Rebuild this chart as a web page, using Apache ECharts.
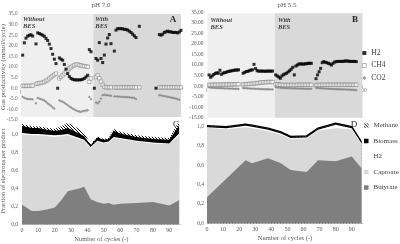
<!DOCTYPE html>
<html><head><meta charset="utf-8">
<script src="https://cdn.jsdelivr.net/npm/echarts@6/dist/echarts.min.js"></script>
<style>html,body{margin:0;padding:0;background:#fff}#c{width:400px;height:244px}</style>
</head><body><div id="c"></div>
<script>
// ---------- pH 7.0 gas productivity (cycle, mmol/cycle) ----------
const h2_pH7 = [[1,15.6],[2,21.4],[3,23.6],[4,24.6],[5,25.0],[6,25.2],[7,24.6],[9,20.9],[10,26.1],[11,25.8],[12,25.4],[13,25.0],[14,24.5],[15,23.5],[16,22.5],[17,20.8],[18,18.7],[19,16.0],[20,13.7],[21,11.6],[22,0],[23,14.3],[24,13.7],[25,13.2],[26,11.2],[27,9.0],[28,6.9],[29,5.5],[30,4.6],[31,4.2],[32,4.0],[33,3.9],[34,3.9],[35,3.9],[36,4.0],[37,4.2],[38,4.6],[39,5.3],[40,6.1],[41,18.2],[42,17.2],[44,0],[45,14.0],[46,13.2],[47,21.5],[48,14.0],[49,12.1],[50,15.6],[51,20.8],[52,23.7],[53,25.3],[54,21.0],[56,17.5],[57,27.4],[58,28.1],[59,28.1],[60,28.1],[61,28.0],[62,27.8],[63,27.7],[64,27.4],[65,26.9],[66,26.3],[67,25.5],[68,24.7],[69,23.9],[71,29.2],[81,0],[83,25.3],[84,25.0],[85,25.5],[86,26.3],[87,26.6],[88,26.9],[89,26.6],[90,26.6],[91,26.3],[92,26.3],[93,26.3],[94,26.1],[95,26.5],[96,27.3]];
const ch4_pH7 = [[1,1.1],[2,1.1],[3,1.1],[4,1.1],[5,1.1],[6,1.2],[7,1.2],[9,2.0],[10,2.2],[11,2.4],[12,2.5],[13,2.7],[14,3.0],[15,3.5],[16,3.9],[17,4.6],[18,5.2],[19,5.8],[20,6.4],[21,6.9],[23,4.6],[24,5.3],[25,6.1],[26,6.9],[27,7.7],[28,8.5],[29,9.3],[30,9.9],[31,10.5],[32,10.8],[33,11.2],[34,11.2],[35,10.8],[36,10.8],[37,10.5],[38,10.4],[39,10.3],[40,10.1],[41,3.0],[42,4.6],[45,5.3],[46,6.0],[47,4.7],[48,3.1],[49,1.6],[50,0.6],[51,0.4],[52,0.4],[53,0.4],[54,0.4],[56,0.4],[57,0.4],[58,0.4],[59,0.4],[60,0.4],[61,0.4],[62,0.4],[63,0.4],[64,0.4],[65,0.4],[66,0.4],[67,0.4],[68,0.4],[69,0.4],[71,0.4],[83,0.4],[84,0.4],[85,0.4],[86,0.4],[87,0.4],[88,0.4],[89,0.4],[90,0.4],[91,0.4],[92,0.4],[93,0.4],[94,0.4],[95,0.4],[96,0.4]];
const co2_pH7 = [[1,-4.1],[2,-4.6],[3,-4.9],[4,-5.1],[5,-5.2],[6,-5.2],[7,-5.3],[9,-7.1],[10,-4.6],[11,-4.9],[12,-5.2],[13,-5.5],[14,-5.8],[15,-6.4],[16,-7.1],[17,-7.7],[18,-8.3],[19,-9.0],[20,-9.6],[23,-5.7],[24,-6.1],[25,-6.4],[26,-6.9],[27,-7.4],[28,-8.0],[29,-8.6],[30,-9.1],[31,-9.6],[32,-10.0],[33,-10.5],[34,-10.8],[35,-11.0],[36,-11.2],[37,-10.8],[38,-10.8],[39,-10.5],[40,-10.4],[41,-4.1],[42,-5.2],[45,-6.8],[46,-7.1],[47,-6.4],[48,-4.9],[49,-3.3],[50,-3.0],[51,-3.3],[52,-3.3],[53,-3.5],[54,-3.6],[56,-3.9],[57,-3.9],[58,-3.9],[59,-4.0],[60,-4.1],[61,-4.1],[62,-4.1],[63,-4.2],[64,-4.2],[65,-4.3],[66,-4.4],[67,-4.5],[68,-4.6],[69,-5.2],[83,-3.3],[84,-3.4],[85,-3.6],[86,-3.7],[87,-3.9],[88,-4.0],[89,-4.2],[90,-4.4],[91,-4.6],[92,-4.7],[93,-4.9],[94,-5.2],[95,-5.5]];

// ---------- pH 5.5 gas productivity ----------
const cycles55 = [1,2,3,4,5,6,7,8,9,10,11,12,13,14,15,16,17,18,19,20,23,24,25,26,27,28,29,30,31,32,33,34,35,36,37,38,39,40,41,42,44,45,46,47,48,49,50,51,52,53,54,55,56,57,58,59,60,61,62,63,64,65,66,67,70,71,72,73,74,75,76,77,78,79,80,81,82,83,84,85,86,87,88,89,90,91,92,93,94,95,96];
const h2_pH55 = [5.3,4.2,4.8,5.5,6.0,6.3,6.1,7.5,5.6,6.1,6.4,6.5,6.9,7.0,7.2,7.3,7.5,7.6,7.6,7.7, 6.1,6.5,6.9,7.0,7.3,7.6,7.7,10.3,8.3,7.3,7.1,7.1,7.1,7.1,7.0,7.1,7.1,7.1,7.1,7.1, 5.3,4.8,4.3,3.7,4.8,5.4,5.8,6.1,6.7,7.3,8.0,8.9,5.3,9.5,10.0,10.5,10.5,10.5,10.4,10.6,10.6,10.8,10.8,10.8, 3.5,5.3,6.8,8.4,11.1,11.6,11.3,11.1,10.8,10.5,10.0,10.8,11.4,11.6,11.7,11.7,11.7,11.7,11.8,11.9,11.9,11.8,11.7,11.7,11.7,11.7,11.6];
const ch4_pH55 = [0.6,0.5,0.6,0.6,0.7,0.6,0.6,0.7,0.6,0.7,0.7,0.7,0.8,0.7,0.8,0.8,0.8,0.9,0.9,0.9, 0.8,0.9,0.9,1.0,1.0,1.1,1.1,1.2,1.3,1.4,1.5,1.6,1.7,1.8,1.8,1.9,1.9,2.0,1.9,1.9, 0.9,0.8,0.7,0.6,0.6,0.5,0.5,0.5,0.5,0.5,0.6,0.5,0.5,0.5,0.6,0.6,0.6,0.6,0.6,0.6,0.6,0.6,0.6,0.6, 0.5,0.5,0.5,0.6,0.6,0.6,0.6,0.6,0.6,0.6,0.6,0.6,0.6,0.6,0.6,0.6,0.6,0.6,0.6,0.6,0.6,0.6,0.6,0.6,0.6,0.6,0.6];
const co2_pH55 = [-0.6,-0.7,-0.8,-0.8,-0.9,-0.9,-1.0,-0.9,-1.0,-1.0,-1.1,-1.1,-1.1,-1.2,-1.2,-1.2,-1.3,-1.3,-1.3,-1.4, -0.9,-1.0,-1.0,-1.1,-1.1,-1.2,-1.2,-1.2,-1.3,-1.3,-1.3,-1.4,-1.4,-1.4,-1.5,-1.5,-1.5,-1.6,-1.6,-1.6, -0.5,-0.6,-0.7,-0.8,-0.8,-0.9,-0.9,-1.0,-1.0,-1.0,-1.1,-1.1,-1.1,-1.1,-1.2,-1.2,-1.2,-1.2,-1.2,-1.3,-1.3,-1.3,-1.3,-1.3, -0.8,-0.9,-1.0,-1.0,-1.1,-1.1,-1.2,-1.2,-1.3,-1.3,-1.3,-1.4,-1.4,-1.4,-1.5,-1.5,-1.5,-1.6,-1.6,-1.6,-1.7,-1.7,-1.7,-1.8,-1.8,-1.9,-1.9];

// BES phases (cycle ranges)
const withoutBES_pH7 = [0, 43.4];
const withBES_pH7 = [43.4, 96];
const withoutBES_pH55 = [0, 43.5];
const withBES_pH55 = [43.5, 100];

// ---------- fraction of electrons per product ----------
const cyclesC = [0, 6, 10, 16, 20, 24, 28, 35, 38, 42, 46, 50, 53, 56, 60, 70, 80, 90, 96];
const butyrateC = [0.22,0.15,0.15,0.17,0.19,0.27,0.37,0.40,0.42,0.28,0.25,0.23,0.24,0.22,0.23,0.24,0.25,0.21,0.27];
const caproateC = [0.78,0.84,0.84,0.81,0.78,0.71,0.62,0.55,0.51,0.57,0.67,0.67,0.67,0.74,0.72,0.68,0.65,0.68,0.72];
const h2C       = [0.015,0.015,0.015,0.015,0.02,0.015,0.015,0.01,0.01,0.01,0.01,0.01,0.01,0.01,0.01,0.01,0.01,0.01,0.02];
const biomassC  = [0.08,0.065,0.065,0.055,0.05,0.055,0.065,0.05,0.04,0.02,0.035,0.03,0.03,0.07,0.05,0.04,0.04,0.04,0.09];
const methaneC  = [0.02,0.02,0.02,0.02,0.02,0.04,0.06,0.05,0.04,0.01,0.01,0.01,0.01,0.02,0.02,0.02,0.02,0.02,0.05];

const cyclesD = [0, 12, 24, 28, 38, 46, 52, 62, 69, 80, 90, 96];
const butyrateD = [0.27,0.46,0.65,0.62,0.67,0.62,0.55,0.53,0.65,0.64,0.69,0.57];
const caproateD = [0.715,0.51,0.34,0.36,0.28,0.29,0.32,0.345,0.305,0.34,0.28,0.25];
const h2D       = [0.005,0.01,0.015,0.015,0.015,0.015,0.01,0.01,0.01,0.035,0.01,0.005];
const biomassD  = [0.012,0.012,0.012,0.012,0.012,0.012,0.012,0.012,0.012,0.012,0.012,0.012];
const methaneD  = [0.004,0.004,0.004,0.004,0.004,0.004,0.004,0.004,0.004,0.004,0.004,0.004];

// ---------- drawing ----------
const FONT = '"Liberation Serif", "DejaVu Serif", serif';
const GREY = '#595959';
const zip = (xs, ys) => xs.map((x, i) => [x, ys[i]]);

function hatch() {
  const c = document.createElement('canvas'); c.width = 3; c.height = 3;
  const g = c.getContext('2d');
  g.fillStyle = '#fff'; g.fillRect(0, 0, 3, 3);
  g.strokeStyle = '#000'; g.lineWidth = 1;
  g.beginPath();
  g.moveTo(-1, -1); g.lineTo(4, 4);
  g.moveTo(-1, 2); g.lineTo(1, 4);
  g.moveTo(2, -1); g.lineTo(4, 1);
  g.stroke();
  return c;
}
const hatchFill = { image: hatch(), repeat: 'repeat' };

const chart = echarts.init(document.getElementById('c'), null, { renderer: 'canvas' });

function shading(idx, without, withB, ylo, yhi, dist) {
  const lab = (t) => ({ show: true, position: 'insideTopLeft', distance: dist, formatter: t,
    fontFamily: FONT, fontStyle: 'italic', fontWeight: 'bold', fontSize: 6.5, lineHeight: 7, color: '#404040' });
  return {
    type: 'scatter', xAxisIndex: idx, yAxisIndex: idx, data: [], z: 1, silent: true,
    markArea: { silent: true, data: [
      [{ xAxis: without[0], yAxis: ylo, itemStyle: { color: '#efefef' }, label: lab('Without\nBES') }, { xAxis: without[1], yAxis: yhi }],
      [{ xAxis: withB[0], yAxis: ylo, itemStyle: { color: '#d9d9d9' }, label: lab('With\nBES') }, { xAxis: withB[1], yAxis: yhi }]
    ] }
  };
}

function gasSeries(idx, h2, ch4, co2) {
  return [
    { name: 'CO2', type: 'scatter', xAxisIndex: idx, yAxisIndex: idx, data: co2, symbol: 'diamond', symbolSize: 2.8, z: 3,
      itemStyle: { color: '#808080' } },
    { name: 'CH4', type: 'scatter', xAxisIndex: idx, yAxisIndex: idx, data: ch4, symbol: 'rect', symbolSize: 3.4, z: 4,
      itemStyle: { color: '#fff', borderColor: '#808080', borderWidth: 0.7 } },
    { name: 'H2', type: 'scatter', xAxisIndex: idx, yAxisIndex: idx, data: h2, symbol: 'rect', symbolSize: 3, z: 5,
      itemStyle: { color: '#000' } }
  ];
}

// stacked areas: each layer drawn from 0 up to its cumulative top; lower layers drawn above
function areaSeries(idx, xs, parts, topLine) {
  const names = ['Butyrate', 'Caproate', 'H2', 'Biomass', 'Methane'];
  const cols = ['#7f7f7f', '#d9d9d9', '#ffffff', '#000000', hatchFill];
  const cum = [];
  let run = xs.map(() => 0);
  parts.forEach(p => { run = run.map((v, i) => v + p[i]); cum.push(run); });
  return names.map((name, i) => ({
    name, type: 'line', xAxisIndex: idx, yAxisIndex: idx, data: zip(xs, cum[i]),
    symbol: 'none', z: 10 - i, silent: true,
    lineStyle: (i === 4 && topLine) ? { width: 1.3, color: '#000' } : { width: 0 },
    itemStyle: { color: typeof cols[i] === 'string' ? cols[i] : '#000' },
    areaStyle: { color: cols[i], opacity: 1, origin: 'start' }
  }));
}

const axLab = (sz) => ({ fontFamily: FONT, fontSize: sz, color: GREY });

const option = {
  animation: false,
  grid: [
    { left: 21, top: 14, width: 160, height: 106 },
    { left: 207.5, top: 12.3, width: 155, height: 105.4 },
    { left: 22, top: 116.4, width: 158.7, height: 108.6 },
    { left: 207, top: 116.5, width: 156, height: 107 }
  ],
  xAxis: [
    { gridIndex: 0, type: 'value', min: 0, max: 96, interval: 10, splitLine: { show: false }, offset: -31.8,
      axisLine: { onZero: false, lineStyle: { color: '#a6a6a6', width: 0.8 } }, axisTick: { length: 2, lineStyle: { color: '#a6a6a6' } },
      axisLabel: Object.assign(axLab(5.5), { margin: 1.5, color: '#7f7f7f', showMaxLabel: false }) },
    { gridIndex: 1, type: 'value', min: 0, max: 100, interval: 10, splitLine: { show: false }, offset: -31.6,
      axisLine: { onZero: false, lineStyle: { color: '#a6a6a6', width: 0.8 } }, axisTick: { length: 2, lineStyle: { color: '#a6a6a6' } },
      axisLabel: Object.assign(axLab(5.5), { margin: 1.5, color: '#7f7f7f' }) },
    { gridIndex: 2, type: 'value', min: 0, max: 97, interval: 10, splitLine: { show: false },
      axisLine: { lineStyle: { color: '#bfbfbf', width: 0.8 } }, axisTick: { show: false },
      axisLabel: Object.assign(axLab(6), { margin: 3, showMaxLabel: false }),
      name: 'Number of cycles (-)', nameLocation: 'middle', nameGap: 11.5, nameTextStyle: axLab(6.5) },
    { gridIndex: 3, type: 'value', min: 0, max: 97, interval: 10, splitLine: { show: false },
      axisLine: { lineStyle: { color: '#bfbfbf', width: 0.8 } }, axisTick: { show: false },
      axisLabel: Object.assign(axLab(6), { margin: 3, showMaxLabel: false }),
      name: 'Number of cycles (-)', nameLocation: 'middle', nameGap: 11.5, nameTextStyle: axLab(6.5) }
  ],
  yAxis: [
    { gridIndex: 0, type: 'value', min: -15, max: 35, interval: 5, splitLine: { show: false },
      axisLine: { show: false }, axisTick: { show: false },
      axisLabel: Object.assign(axLab(5.2), { margin: 3.5, showMinLabel: true, showMaxLabel: true, formatter: v => v.toFixed(1) }) },
    { gridIndex: 1, type: 'value', min: -15, max: 35, interval: 5, splitLine: { show: false },
      axisLine: { show: false }, axisTick: { show: false },
      axisLabel: Object.assign(axLab(5.5), { margin: 4, formatter: v => v.toFixed(2) }) },
    { gridIndex: 2, type: 'value', min: 0, max: 1.2, interval: 0.2, splitLine: { show: false },
      axisLine: { show: false }, axisTick: { show: false },
      axisLabel: Object.assign(axLab(5.5), { margin: 4, showMaxLabel: false,
        formatter: v => v > 1.05 ? '' : v.toFixed(1).replace('.', ',') }) },
    { gridIndex: 3, type: 'value', min: 0, max: 1.1, interval: 0.2, splitLine: { show: false },
      axisLine: { show: false }, axisTick: { show: false },
      axisLabel: Object.assign(axLab(5.5), { margin: 3, showMaxLabel: false,
        formatter: v => v > 1.05 ? '' : v.toFixed(1).replace('.', ',') }) }
  ],
  legend: [
    { orient: 'vertical', left: 362, top: 49, padding: 0, itemWidth: 4, itemHeight: 4, itemGap: 4.5,
      textStyle: { fontFamily: FONT, fontSize: 7.5, color: '#404040' },
      data: [
        { name: 'H2', icon: 'rect', itemStyle: { color: '#000', borderWidth: 0 } },
        { name: 'CH4', icon: 'rect', itemStyle: { color: '#fff', borderColor: '#808080', borderWidth: 0.7 } },
        { name: 'CO2', icon: 'diamond', itemStyle: { color: '#808080', borderWidth: 0 } }
      ] },
    { orient: 'vertical', left: 364, top: 122, padding: 0, itemWidth: 4.5, itemHeight: 4.5, itemGap: 8.5,
      textStyle: { fontFamily: FONT, fontSize: 7, color: '#404040' },
      data: [
        { name: 'Methane', icon: 'rect', itemStyle: { color: hatchFill, borderWidth: 0 } },
        { name: 'Biomass', icon: 'rect', itemStyle: { color: '#000', borderWidth: 0 } },
        { name: 'H2', icon: 'rect', itemStyle: { color: '#fff', borderWidth: 0 } },
        { name: 'Caproate', icon: 'rect', itemStyle: { color: '#d9d9d9', borderWidth: 0 } },
        { name: 'Butyrate', icon: 'rect', itemStyle: { color: '#7f7f7f', borderWidth: 0 } }
      ] }
  ],
  graphic: [
    { type: 'text', x: 101, y: 5, style: { text: 'pH 7.0', font: '7px ' + FONT, fill: GREY, align: 'center', verticalAlign: 'middle' } },
    { type: 'text', x: 287, y: 5, style: { text: 'pH 5.5', font: '7px ' + FONT, fill: GREY, align: 'center', verticalAlign: 'middle' } },
    { type: 'text', x: 3, y: 67, rotation: Math.PI / 2, style: { text: 'Gas productivity (mmol/cycle)', font: '7px ' + FONT, fill: GREY, align: 'center', verticalAlign: 'middle' } },
    { type: 'text', x: 3, y: 171, rotation: Math.PI / 2, style: { text: 'Fraction of electrons per product', font: '6.5px ' + FONT, fill: GREY, align: 'center', verticalAlign: 'middle' } },
    { type: 'text', x: 173, y: 19.5, z: 100, style: { text: 'A', font: 'bold 9px ' + FONT, fill: '#262626', align: 'center', verticalAlign: 'middle' } },
    { type: 'text', x: 355, y: 19.5, z: 100, style: { text: 'B', font: 'bold 9px ' + FONT, fill: '#262626', align: 'center', verticalAlign: 'middle' } },
    { type: 'text', x: 176, y: 125, z: 100, style: { text: 'C', font: '9px ' + FONT, fill: '#262626', align: 'center', verticalAlign: 'middle' } },
    { type: 'text', x: 354, y: 125, z: 100, style: { text: 'D', font: '9px ' + FONT, fill: '#262626', align: 'center', verticalAlign: 'middle' } }
  ],
  series: [
    shading(0, withoutBES_pH7, withBES_pH7, -13.6, 35, 2),
    shading(1, withoutBES_pH55, withBES_pH55, -15, 34.5, 3),
    ...gasSeries(0, h2_pH7, ch4_pH7, co2_pH7),
    ...gasSeries(1, zip(cycles55, h2_pH55), zip(cycles55, ch4_pH55), zip(cycles55, co2_pH55)),
    ...areaSeries(2, cyclesC, [butyrateC, caproateC, h2C, biomassC, methaneC], false),
    ...areaSeries(3, cyclesD, [butyrateD, caproateD, h2D, biomassD, methaneD], true)
  ]
};
chart.setOption(option);
</script></body></html>
